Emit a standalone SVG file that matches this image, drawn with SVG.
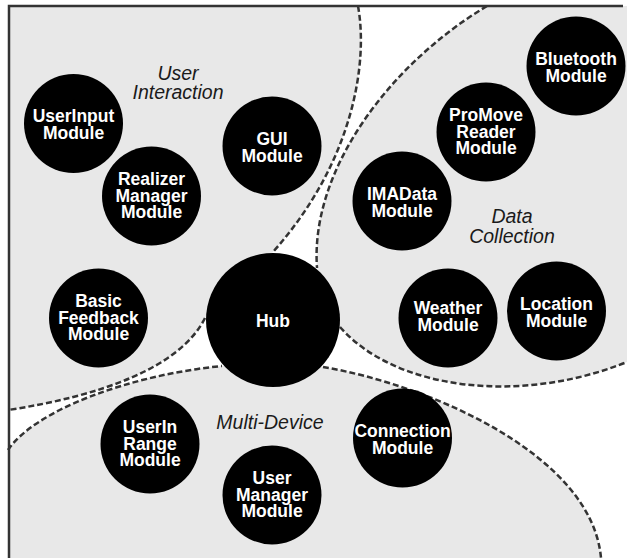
<svg xmlns="http://www.w3.org/2000/svg" width="627" height="558" viewBox="0 0 627 558">
  <style>
    .area { fill: #e8e8e8; stroke: none; }
    .edge { fill: none; stroke: #333333; stroke-width: 2.5; stroke-dasharray: 6 3; }
    .frame { fill: none; stroke: #333333; stroke-width: 2.5; }
    .node circle { fill: #000000; }
    .node text { fill: #ffffff; font-family: "Liberation Sans", Arial, sans-serif; font-weight: bold; font-size: 17.5px; text-anchor: middle; }
    .label { fill: #1a1a1a; font-family: "Liberation Sans", Arial, sans-serif; font-style: italic; font-size: 19.5px; text-anchor: middle; }
  </style>
  <rect x="0" y="0" width="627" height="558" fill="#ffffff"/>

  <!-- grey areas behind the modules -->
  <g id="regions">
    <path id="area-user-interaction" class="area" d="M 9,6 L 358,6 C 368,60 355,160 273,252 L 205,318 C 180,368 100,396 8,410 Z"/>
    <path id="area-data-collection" class="area" d="M 487,6 L 627,6 L 627,362 C 520,405 395,390 340,327 L 317,268 C 310,170 390,64 487,6 Z"/>
    <path id="area-multi-device" class="area" d="M 8,450 C 35,410 130,375 222,366 L 323,367 C 430,385 592,455 601,558 L 8,558 Z"/>
  </g>

  <!-- dashed area boundaries -->
  <g id="connectors">
    <path class="edge" d="M 358,6 C 368,60 355,160 273,252"/>
    <path class="edge" d="M 205,318 C 180,368 100,396 8,410"/>
    <path class="edge" d="M 487,6 C 390,64 310,170 317,268"/>
    <path class="edge" d="M 340,327 C 395,390 520,405 627,362"/>
    <path class="edge" d="M 8,450 C 35,410 130,375 222,366"/>
    <path class="edge" d="M 323,367 C 430,385 592,455 601,558"/>
  </g>

  <!-- frame -->
  <path class="frame" d="M 9,558 L 9,6 L 623,6"/>

  <!-- area names -->
  <text class="label" x="178" y="80">User</text>
  <text class="label" x="178" y="99">Interaction</text>
  <text class="label" x="512" y="223">Data</text>
  <text class="label" x="512" y="242.5">Collection</text>
  <text class="label" x="270" y="429">Multi-Device</text>

  <!-- modules -->
  <g id="hub" class="node">
    <circle cx="273" cy="320" r="67"/>
    <text x="273" y="326.5">Hub</text>
  </g>
  <g id="userinput" class="node">
    <circle cx="73.5" cy="123.5" r="49.5"/>
    <text x="73.5" y="122">UserInput</text>
    <text x="73.5" y="139">Module</text>
  </g>
  <g id="realizer-manager" class="node">
    <circle cx="151.5" cy="196" r="49.5"/>
    <text x="151.5" y="185">Realizer</text>
    <text x="151.5" y="201.5">Manager</text>
    <text x="151.5" y="218">Module</text>
  </g>
  <g id="gui" class="node">
    <circle cx="272" cy="146" r="49.5"/>
    <text x="272" y="144.5">GUI</text>
    <text x="272" y="161.5">Module</text>
  </g>
  <g id="basic-feedback" class="node">
    <circle cx="98.5" cy="318" r="49.5"/>
    <text x="98.5" y="307">Basic</text>
    <text x="98.5" y="323.5">Feedback</text>
    <text x="98.5" y="340">Module</text>
  </g>
  <g id="bluetooth" class="node">
    <circle cx="576" cy="66" r="49.5"/>
    <text x="576" y="64.5">Bluetooth</text>
    <text x="576" y="81.5">Module</text>
  </g>
  <g id="promove-reader" class="node">
    <circle cx="486" cy="132" r="49.5"/>
    <text x="486" y="121">ProMove</text>
    <text x="486" y="137.5">Reader</text>
    <text x="486" y="154">Module</text>
  </g>
  <g id="imadata" class="node">
    <circle cx="402" cy="201" r="49.5"/>
    <text x="402" y="199.5">IMAData</text>
    <text x="402" y="216.5">Module</text>
  </g>
  <g id="weather" class="node">
    <circle cx="448" cy="318" r="49.5"/>
    <text x="448" y="314">Weather</text>
    <text x="448" y="331">Module</text>
  </g>
  <g id="location" class="node">
    <circle cx="556.5" cy="311" r="49.5"/>
    <text x="556.5" y="309.5">Location</text>
    <text x="556.5" y="326.5">Module</text>
  </g>
  <g id="connection" class="node">
    <circle cx="402.5" cy="438" r="49.5"/>
    <text x="402.5" y="436.5">Connection</text>
    <text x="402.5" y="453.5">Module</text>
  </g>
  <g id="userin-range" class="node">
    <circle cx="150" cy="444" r="49.5"/>
    <text x="150" y="433">UserIn</text>
    <text x="150" y="449.5">Range</text>
    <text x="150" y="466">Module</text>
  </g>
  <g id="user-manager" class="node">
    <circle cx="272" cy="495" r="49.5"/>
    <text x="272" y="484">User</text>
    <text x="272" y="500.5">Manager</text>
    <text x="272" y="517">Module</text>
  </g>
</svg>
